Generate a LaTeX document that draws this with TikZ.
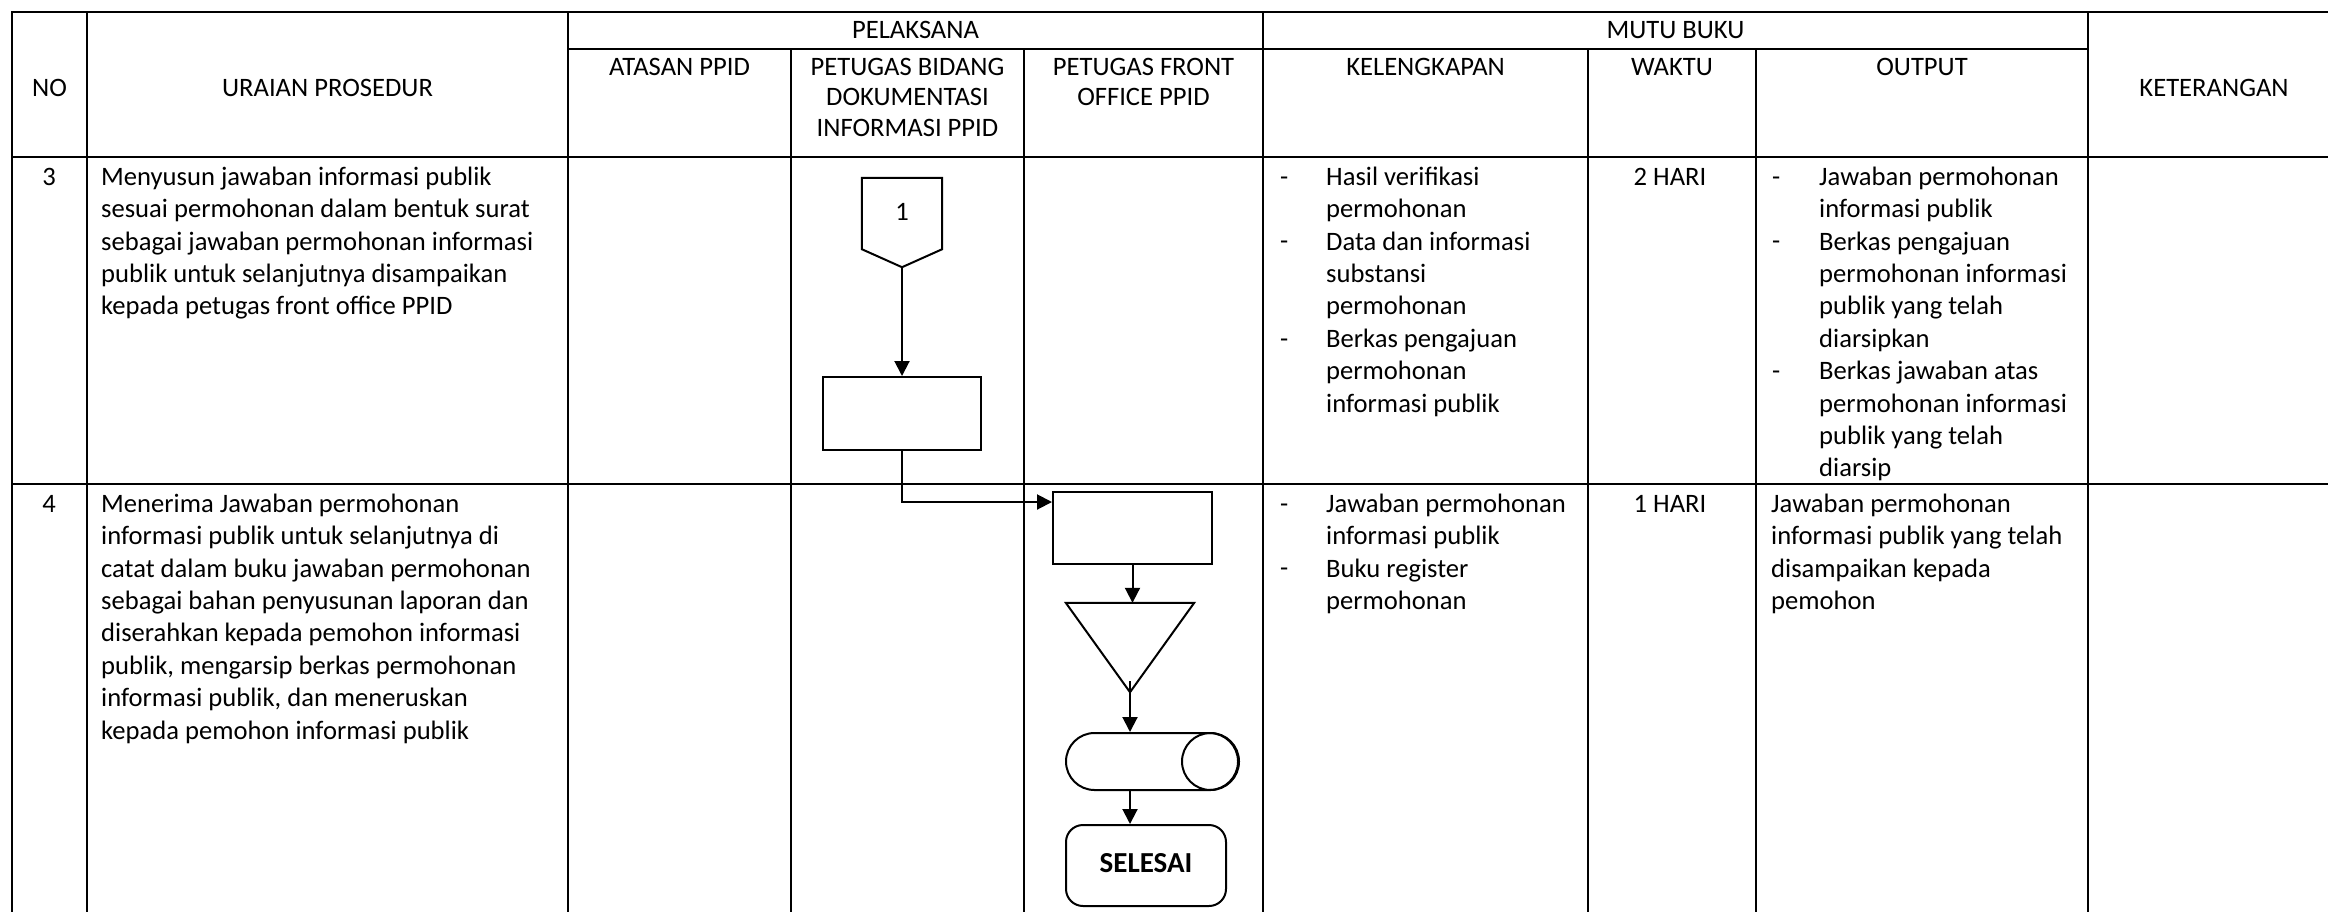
\documentclass[tikz,border=0pt]{standalone}
\usepackage{fontspec}
\setmainfont{Carlito}
\usetikzlibrary{arrows.meta,shapes.misc}
\begin{document}
\begin{tikzpicture}[x=1pt,y=-1pt,
  grid/.style={line width=2.2pt, line cap=rect},
  shp/.style={draw, line width=2pt},
  arr/.style={-{Triangle[length=15pt,width=15pt]}, line width=2pt},
  hdr/.style={anchor=base, inner sep=0pt, align=center, font=\fontsize{26.6}{30.4}\selectfont},
  hdrm/.style={anchor=north, inner sep=0pt, align=center, font=\fontsize{26.6}{30.4}\selectfont},
  body/.style={anchor=north west, inner sep=0pt, align=left, font=\fontsize{26.6}{32.4}\selectfont},
  bodyc/.style={anchor=base, inner sep=0pt, align=center, font=\fontsize{26.6}{32.4}\selectfont},
  bullet/.style={anchor=base west, inner sep=0pt, font=\fontsize{26.6}{32.4}\selectfont}
]
\path[fill=white] (0,0) rectangle (2328,911);
\useasboundingbox (0,0) rectangle (2328,911);

% ---- table grid ----
\draw[grid] (12,12) -- (2340,12);
\draw[grid] (568,49) -- (2088,49);
\draw[grid] (12,157) -- (2340,157);
\draw[grid] (12,484) -- (2340,484);
\foreach \x in {12,87,568,1263,2088} \draw[grid] (\x,12) -- (\x,920);
\foreach \x in {791,1024,1588,1756} \draw[grid] (\x,49) -- (\x,920);

% ---- header ----
\node[hdr] (hNo) at (49.5,96) {NO};
\node[hdr] (hUr) at (327.5,96) {URAIAN PROSEDUR};
\node[hdr] (hPel) at (915.5,38) {PELAKSANA};
\node[hdr] (hMutu) at (1675.5,38) {MUTU BUKU};
\node[hdr] (hKet) at (2214,96) {KETERANGAN};
\node[hdr] (hAt) at (679.5,75) {ATASAN PPID};
\node[hdrm] (hBid) at (907.5,53.72) {\strut PETUGAS BIDANG\\DOKUMENTASI\\INFORMASI PPID};
\node[hdrm] (hFr) at (1143.5,53.72) {\strut PETUGAS FRONT\\OFFICE PPID};
\node[hdr] (hKel) at (1425.5,75) {KELENGKAPAN};
\node[hdr] (hWak) at (1672,75) {WAKTU};
\node[hdr] (hOut) at (1922,75) {OUTPUT};

% ---- row 3 ----
\node[bodyc] (n3) at (49,185) {3};
\node[body] (u3) at (101,162.32) {\strut Menyusun jawaban informasi publik\\sesuai permohonan dalam bentuk surat\\sebagai jawaban permohonan informasi\\publik untuk selanjutnya disampaikan\\kepada petugas front office PPID};
\node[bullet] (k3a) at (1280,185) {-};
\node[bullet] (k3b) at (1280,249.8) {-};
\node[bullet] (k3c) at (1280,347) {-};
\node[body] (k3) at (1326,162.32) {\strut Hasil verifikasi\\permohonan\\Data dan informasi\\substansi\\permohonan\\Berkas pengajuan\\permohonan\\informasi publik};
\node[bodyc] (w3) at (1670,185) {2 HARI};
\node[bullet] (o3a) at (1772,185) {-};
\node[bullet] (o3b) at (1772,249.8) {-};
\node[bullet] (o3c) at (1772,379.4) {-};
\node[body] (o3) at (1819,162.32) {\strut Jawaban permohonan\\informasi publik\\Berkas pengajuan\\permohonan informasi\\publik yang telah\\diarsipkan\\Berkas jawaban atas\\permohonan informasi\\publik yang telah\\diarsip};

% ---- row 4 ----
\node[bodyc] (n4) at (49,512) {4};
\node[body] (u4) at (101,489.32) {\strut Menerima Jawaban permohonan\\informasi publik untuk selanjutnya di\\catat dalam buku jawaban permohonan\\sebagai bahan penyusunan laporan dan\\diserahkan kepada pemohon informasi\\publik, mengarsip berkas permohonan\\informasi publik, dan meneruskan\\kepada pemohon informasi publik};
\node[bullet] (k4a) at (1280,512) {-};
\node[bullet] (k4b) at (1280,576.8) {-};
\node[body] (k4) at (1326,489.32) {\strut Jawaban permohonan\\informasi publik\\Buku register\\permohonan};
\node[bodyc] (w4) at (1670,512) {1 HARI};
\node[body] (o4) at (1771,489.32) {\strut Jawaban permohonan\\informasi publik yang telah\\disampaikan kepada\\pemohon};

% ---- flowchart ----
\node[inner sep=0pt, minimum width=80pt, minimum height=71pt, font=\fontsize{26.6}{32}\selectfont] (c1) at (902,213.5) {\raisebox{4pt}{1}};
\draw[shp, line join=miter] (c1.north west) -- (c1.north east) -- (c1.south east) -- ([yshift=-18pt]c1.south) -- (c1.south west) -- cycle;
\coordinate (c1tip) at ([yshift=-18pt]c1.south);

\node[shp, inner sep=0pt, minimum width=158pt, minimum height=73pt] (r1) at (902,413.5) {};
\node[shp, inner sep=0pt, minimum width=159pt, minimum height=72pt] (r2) at (1132.5,528) {};
\node[inner sep=0pt, minimum width=128pt, minimum height=89pt] (tri) at (1130,647.5) {};
\draw[shp, line join=miter] (tri.north west) -- (tri.north east) -- (tri.south) -- cycle;
\node[shp, rounded rectangle, inner sep=0pt, minimum width=172pt, minimum height=57pt] (cyl) at (1152,761.5) {};
\draw[shp] ([xshift=-28.5pt]cyl.east) circle[radius=28.5pt];
\node[shp, rounded corners=17pt, inner sep=0pt, minimum width=160pt, minimum height=81pt, font=\fontsize{29}{32}\selectfont\bfseries] (end) at (1146,865.5) {\raisebox{5pt}{SELESAI}};

\draw[arr] (c1tip) -- (r1.north);
\draw[arr] (r1.south) |- ([yshift=-11pt]r2.north west);
\draw[arr] (r2.south) -- (r2.south |- tri.north);
\draw[arr] ([yshift=11pt]tri.south) -- (tri.south |- cyl.north);
\draw[arr] (tri.south |- cyl.south) -- (tri.south |- end.north);
\end{tikzpicture}
\end{document}
